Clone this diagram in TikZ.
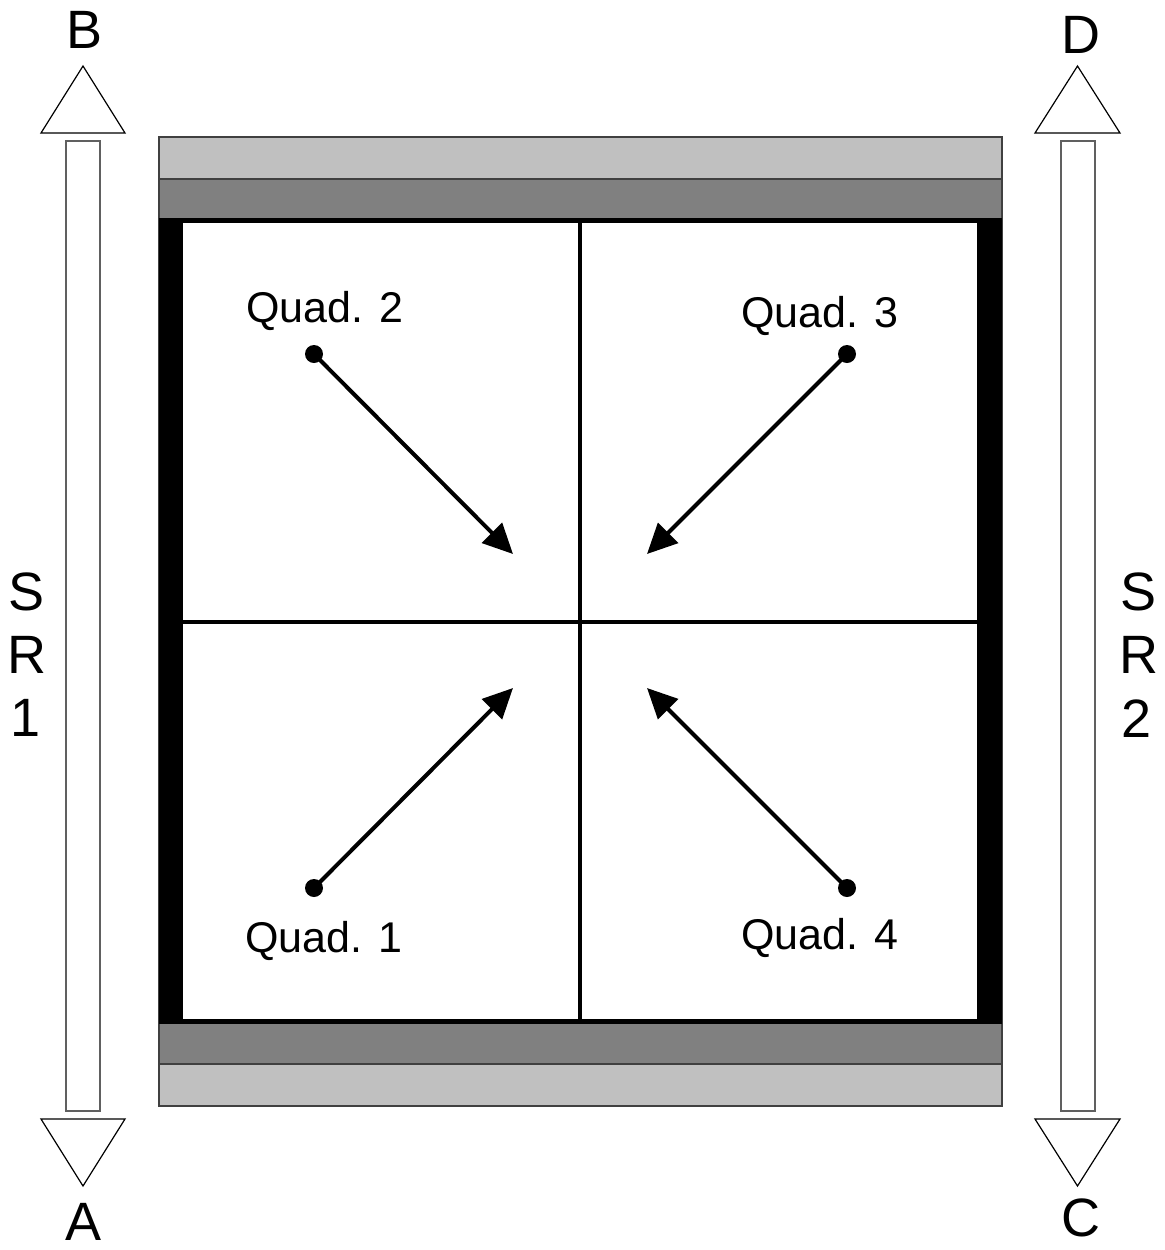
\documentclass[tikz,border=0pt]{standalone}
\usepackage{fontspec}
\setmainfont{Liberation Sans}
\usetikzlibrary{arrows.meta}
\definecolor{lightband}{HTML}{C0C0C0}
\definecolor{darkband}{HTML}{808080}
\definecolor{edgegray}{HTML}{404040}
\definecolor{shaftgray}{HTML}{606060}
\tikzset{
  bigletter/.style={inner sep=0pt, anchor=base, font=\fontsize{27}{30}\selectfont},
  quadlabel/.style={inner sep=0pt, anchor=base, font=\fontsize{21.5}{24}\selectfont},
  dirtri/.style={draw=black, fill=white, line width=0.6pt, line join=miter},
  shaft/.style={draw=shaftgray, fill=white, line width=0.8pt},
  band/.style={draw=edgegray, line width=0.7pt},
  divider/.style={draw=black, line width=2.2pt},
  flowarrow/.style={draw=black, line width=2pt, -{Triangle[length=15pt,width=14pt]}},
  startdot/.style={circle, fill=black, inner sep=0pt, minimum size=9pt},
}
\begin{document}
\begin{tikzpicture}[x=0.5pt, y=-0.5pt]
\useasboundingbox (0,0) rectangle (1165,1250);

% gray bands of the plate
\path[band, fill=lightband] (159,137) rectangle (1002,1106);
\path[band, fill=darkband] (159,179) rectangle (1002,1064);

% inner square with thick side bars
\path[fill=white, draw=black, line width=2.7pt] (180,220.5) rectangle (980,1021.5);
\fill[black] (159,218) rectangle (182,1024);
\fill[black] (978,218) rectangle (1002,1024);

% quadrant dividers
\coordinate (vt) at (580,221);
\coordinate (vb) at (580,1021);
\coordinate (hl) at (182,622);
\coordinate (hr) at (978,622);
\draw[divider] (vt) -- (vb);
\draw[divider] (hl) -- (hr);

% left scan direction (SR1)
\draw[dirtri] (83,66) -- (125,133) -- (41,133) -- cycle;
\draw[shaft] (66,141) rectangle (100,1111);
\draw[dirtri] (41,1119) -- (125,1119) -- (83,1186) -- cycle;
\node[bigletter] (lblB) at (85,48) {B};
\node[bigletter] (lblA) at (84,1240) {A};
\node[bigletter] (sr1s) at (27,610) {S};
\node[bigletter] (sr1r) at (27,673) {R};
\node[bigletter] (sr1n) at (26,736) {1};

% right scan direction (SR2)
\draw[dirtri] (1077.5,66) -- (1120,133) -- (1035,133) -- cycle;
\draw[shaft] (1061,141) rectangle (1095,1111);
\draw[dirtri] (1035,1119) -- (1120,1119) -- (1077.5,1186) -- cycle;
\node[bigletter] (lblD) at (1081,53) {D};
\node[bigletter] (lblC) at (1081,1236) {C};
\node[bigletter] (sr2s) at (1139,610) {S};
\node[bigletter] (sr2r) at (1139,673) {R};
\node[bigletter] (sr2n) at (1137,737) {2};

% quadrant labels
\node[quadlabel] (lq2) at (325,322) {Quad. 2};
\node[quadlabel] (lq3) at (820,327) {Quad. 3};
\node[quadlabel] (lq1) at (324,952) {Quad. 1};
\node[quadlabel] (lq4) at (820,949) {Quad. 4};

% quadrant centres and arrow tips
\node[startdot] (q2) at (314,354) {};
\node[startdot] (q3) at (847,354) {};
\node[startdot] (q1) at (314,888) {};
\node[startdot] (q4) at (847,888) {};
\coordinate (t2) at (513,554);
\coordinate (t3) at (647,554);
\coordinate (t1) at (513,688);
\coordinate (t4) at (647,688);

\draw[flowarrow] (q2.center) -- (t2);
\draw[flowarrow] (q3.center) -- (t3);
\draw[flowarrow] (q1.center) -- (t1);
\draw[flowarrow] (q4.center) -- (t4);
\end{tikzpicture}
\end{document}
